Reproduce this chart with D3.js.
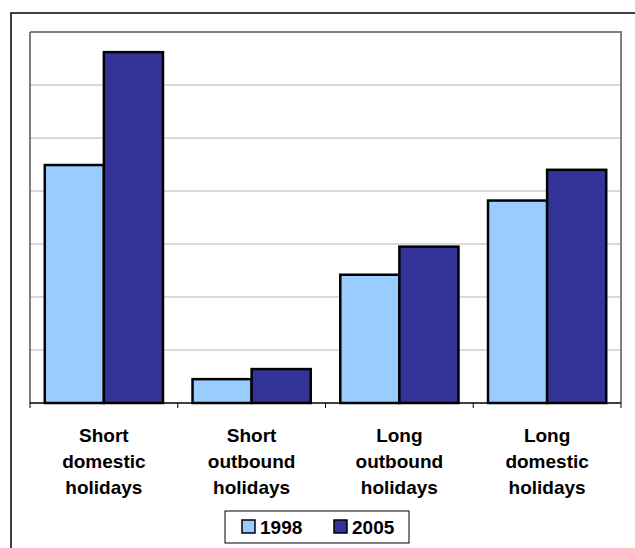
<!DOCTYPE html>
<html>
<head>
<meta charset="utf-8">
<script src="https://cdn.jsdelivr.net/npm/d3@7"></script>
<style>
  body { margin: 0; background: #fff; }
  svg { display: block; font-family: "Liberation Sans", Arial, sans-serif; }
</style>
</head>
<body>
<div id="chart"></div>
<script>
const categories = [
  ['Short', 'domestic', 'holidays'],
  ['Short', 'outbound', 'holidays'],
  ['Long', 'outbound', 'holidays'],
  ['Long', 'domestic', 'holidays']
];
const seriesNames = ['1998', '2005'];
const values1998 = [4.49, 0.45, 2.42, 3.82];
const values2005 = [6.62, 0.64, 2.95, 4.40];
const colors = ['#99ccff', '#333399'];
const yTicks = [0, 1, 2, 3, 4, 5, 6, 7];

const width = 635, height = 548;
const margin = { top: 32, right: 14, bottom: 145, left: 30 };

const svg = d3.select('#chart').append('svg')
  .attr('width', width)
  .attr('height', height);

// outer chart frame
svg.append('rect')
  .attr('x', 11).attr('y', 13)
  .attr('width', 640).attr('height', 560)
  .attr('fill', 'none').attr('stroke', '#000').attr('stroke-width', 1.5);

const x = d3.scaleBand()
  .domain(d3.range(categories.length))
  .range([margin.left, width - margin.right])
  .paddingInner(0.2)
  .paddingOuter(0.1);

const x1 = d3.scaleBand()
  .domain(seriesNames)
  .range([0, x.bandwidth()]);

const y = d3.scaleLinear()
  .domain([0, 7])
  .range([height - margin.bottom, margin.top]);

// gridlines
svg.append('g')
  .selectAll('line')
  .data(yTicks.slice(1, -1))
  .join('line')
    .attr('x1', margin.left).attr('x2', width - margin.right)
    .attr('y1', d => y(d)).attr('y2', d => y(d))
    .attr('stroke', '#b4b4b4').attr('stroke-width', 1);

// plot border (top & right)
svg.append('path')
  .attr('d', `M${margin.left},${y(7)}H${width - margin.right}V${y(0)}`)
  .attr('fill', 'none').attr('stroke', '#808080').attr('stroke-width', 2);
svg.append('line')
  .attr('x1', margin.left).attr('x2', margin.left)
  .attr('y1', y(7)).attr('y2', y(0))
  .attr('stroke', '#555').attr('stroke-width', 1.5);

const data = categories.map((c, i) => ({ i, vals: [values1998[i], values2005[i]] }));

svg.append('g')
  .selectAll('g')
  .data(data)
  .join('g')
    .attr('transform', d => `translate(${x(d.i)},0)`)
  .selectAll('rect')
  .data(d => d.vals.map((v, k) => ({ key: seriesNames[k], v, k })))
  .join('rect')
    .attr('x', d => x1(d.key))
    .attr('y', d => y(d.v))
    .attr('width', x1.bandwidth())
    .attr('height', d => y(0) - y(d.v))
    .attr('fill', d => colors[d.k])
    .attr('stroke', '#000')
    .attr('stroke-width', 2.5);

// x axis line and ticks at category boundaries
const step = x.step();
const bounds = d3.range(categories.length + 1).map(i => margin.left + i * step);
svg.append('line')
  .attr('x1', margin.left).attr('x2', width - margin.right)
  .attr('y1', y(0)).attr('y2', y(0))
  .attr('stroke', '#000').attr('stroke-width', 1.5);
svg.append('g')
  .selectAll('line')
  .data(bounds)
  .join('line')
    .attr('x1', d => d).attr('x2', d => d)
    .attr('y1', y(0)).attr('y2', y(0) + 5)
    .attr('stroke', '#000');

// category labels
const labels = svg.append('g')
  .attr('font-size', 19).attr('font-weight', 'bold')
  .attr('text-anchor', 'middle');
labels.selectAll('text')
  .data(data)
  .join('text')
    .attr('x', d => x(d.i) + x.bandwidth() / 2)
    .attr('y', 442)
  .selectAll('tspan')
  .data(d => categories[d.i])
  .join('tspan')
    .attr('x', function() { return this.parentNode.getAttribute('x'); })
    .attr('dy', (d, j) => j === 0 ? 0 : 26)
    .text(d => d);

// legend
const lg = svg.append('g');
lg.append('rect')
  .attr('x', 225).attr('y', 511).attr('width', 184).attr('height', 32)
  .attr('fill', '#fff').attr('stroke', '#000').attr('stroke-width', 1);
const items = lg.selectAll('g')
  .data(seriesNames)
  .join('g')
    .attr('transform', (d, i) => `translate(${242 + i * 92},520)`);
items.append('rect')
  .attr('width', 13).attr('height', 13)
  .attr('fill', (d, i) => colors[i])
  .attr('stroke', '#000').attr('stroke-width', 1.5);
items.append('text')
  .attr('x', 18).attr('y', 14)
  .attr('font-size', 19).attr('font-weight', 'bold')
  .text(d => d);
</script>
</body>
</html>
